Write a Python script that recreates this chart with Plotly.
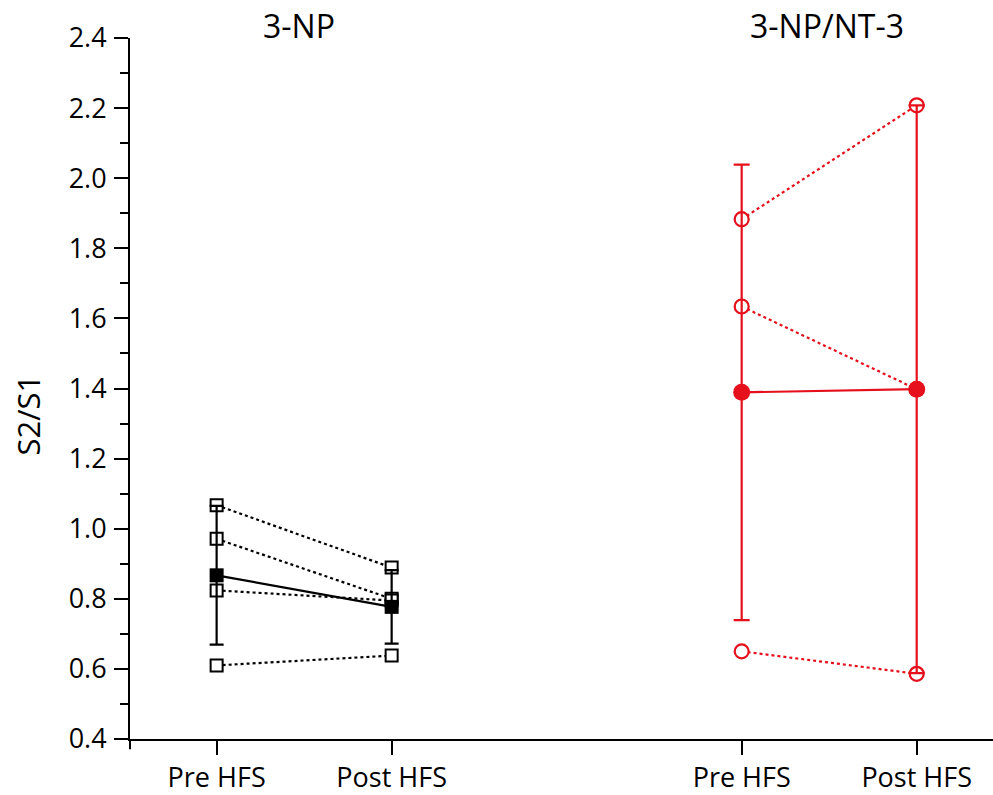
import plotly.graph_objects as go

# ---- data ----
categories = ["Pre HFS", "Post HFS"]
group_names = ["3-NP", "3-NP/NT-3"]
group1_x = [1, 2]
group2_x = [4, 5]

# individual subjects, 3-NP (pre, post)
np_pre = [1.067, 0.971, 0.824, 0.610]
np_post = [0.889, 0.800, 0.795, 0.638]
np_mean = [0.867, 0.777]
np_sem = [0.198, 0.105]

# individual subjects, 3-NP/NT-3 (pre, post)
nt_pre = [1.883, 1.634, 0.650]
nt_post = [2.208, 1.398, 0.586]
nt_mean = [1.389, 1.398]
nt_sem = [0.650, 0.810]

y_ticks = [0.4, 0.6, 0.8, 1.0, 1.2, 1.4, 1.6, 1.8, 2.0, 2.2, 2.4]

BLACK = "#000000"
RED = "#E5101B"
FONT = "Open Sans"

fig = go.Figure()

# individual subject lines (dotted, open symbols)
for a, b in zip(np_pre, np_post):
    fig.add_trace(go.Scatter(
        x=group1_x, y=[a, b], mode="lines+markers",
        line=dict(color=BLACK, width=2.2, dash="3px,3px"),
        marker=dict(symbol="square", size=12, color="white",
                    line=dict(color=BLACK, width=2)),
        showlegend=False, hoverinfo="skip"))

for a, b in zip(nt_pre, nt_post):
    fig.add_trace(go.Scatter(
        x=group2_x, y=[a, b], mode="lines+markers",
        line=dict(color=RED, width=2.2, dash="3px,3px"),
        marker=dict(symbol="circle", size=14, color="white",
                    line=dict(color=RED, width=2.2)),
        showlegend=False, hoverinfo="skip"))

# group means with SEM
fig.add_trace(go.Scatter(
    x=group1_x, y=np_mean, mode="lines+markers",
    line=dict(color=BLACK, width=2.2),
    marker=dict(symbol="square", size=14, color=BLACK),
    error_y=dict(type="data", array=np_sem, visible=True,
                 color=BLACK, thickness=2.2, width=7),
    showlegend=False))

fig.add_trace(go.Scatter(
    x=group2_x, y=nt_mean, mode="lines+markers",
    line=dict(color=RED, width=2.2),
    marker=dict(symbol="circle", size=17, color=RED),
    error_y=dict(type="data", array=nt_sem, visible=True,
                 color=RED, thickness=2.2, width=8),
    showlegend=False))

fig.update_layout(
    width=993, height=795,
    margin=dict(l=130, r=0, t=38, b=53),
    paper_bgcolor="white", plot_bgcolor="white",
    font=dict(family=FONT, color=BLACK),
    showlegend=False,
)

fig.update_xaxes(
    range=[0.505, 5.436],
    tickmode="array",
    tickvals=group1_x + group2_x,
    ticktext=categories + categories,
    ticks="outside", ticklen=14, tickwidth=2, tickcolor=BLACK,
    showline=True, linecolor=BLACK, linewidth=2,
    showgrid=False, zeroline=False,
    tickfont=dict(family=FONT, size=27, color=BLACK),
)

fig.update_yaxes(
    range=[0.4, 2.4],
    tickmode="array", tickvals=y_ticks,
    ticktext=[f"{v:.1f}" for v in y_ticks],
    ticks="outside", ticklen=14, tickwidth=2, tickcolor=BLACK,
    minor=dict(ticks="outside", ticklen=8, tickwidth=2, tickcolor=BLACK, dtick=0.1, showgrid=False),
    showline=True, linecolor=BLACK, linewidth=2,
    showgrid=False, zeroline=False,
    tickfont=dict(family=FONT, size=27, color=BLACK),
    ticklabelstandoff=2,
)

# group titles
fig.add_annotation(text=group_names[0], x=1.47, xref="x", y=1.0185, yref="paper",
                   xanchor="center", yanchor="middle", showarrow=False,
                   font=dict(family=FONT, size=32, color=BLACK))
fig.add_annotation(text=group_names[1], x=4.485, xref="x", y=1.0185, yref="paper",
                   xanchor="center", yanchor="middle", showarrow=False,
                   font=dict(family=FONT, size=32, color=BLACK))

# y-axis title
fig.add_annotation(text="S2/S1", x=-0.118, xref="paper", y=0.4616, yref="paper",
                   xanchor="center", yanchor="middle", showarrow=False, textangle=-90,
                   font=dict(family=FONT, size=31, color=BLACK))

# small extension of the y axis line below the x axis
fig.add_shape(type="line", xref="paper", yref="paper", x0=0, x1=0, y0=0, y1=-0.0145,
              line=dict(color=BLACK, width=2))

fig.write_html("out.html")
